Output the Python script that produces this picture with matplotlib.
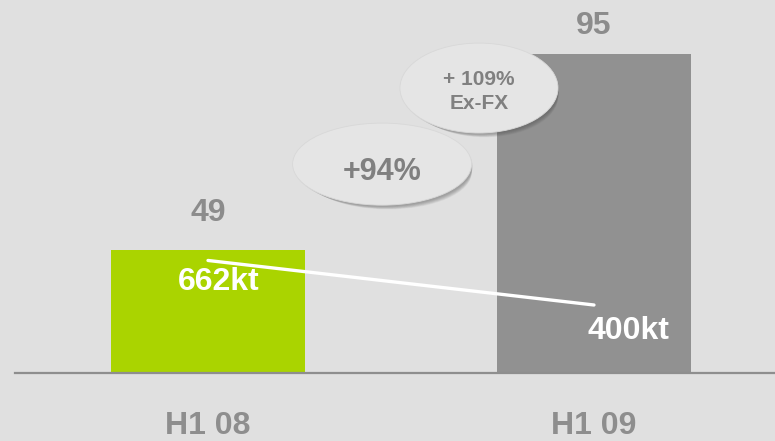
import matplotlib.pyplot as plt
from matplotlib import font_manager
from matplotlib.patches import Ellipse

# half-year figures
periodos = ['H1 08', 'H1 09']
valores = [49, 95]
volumen_kt = [662, 400]
etiquetas_kt = ['662kt', '400kt']
colores = ['#aad400', '#919191']

fondo = '#e0e0e0'
gris_txt = '#8c8c8c'

nombres = {f.name for f in font_manager.fontManager.ttflist}
estrecha = 'Liberation Sans Narrow' in nombres

fig = plt.figure(figsize=(7.75, 4.41), dpi=100, facecolor=fondo)
ax = fig.add_axes([15 / 775, 68 / 441, 760 / 775, 373 / 441])
ax.set_facecolor(fondo)

x = list(range(len(periodos)))
ax.bar(x, valores, width=0.503, color=colores, zorder=2)
ax.set_xlim(-0.5, 1.469)
ax.set_ylim(20.1, 20.1 + 373 / 4.26)

# value on top of each bar
for xi, v, dy in zip(x, valores, [37, 28]):
    ax.annotate(str(v), (xi, v), xytext=(0, dy), textcoords='offset pixels',
                ha='center', va='center', fontsize=23, fontweight='bold',
                color=gris_txt, family='Liberation Sans')

for s in ['top', 'left', 'right']:
    ax.spines[s].set_visible(False)
ax.spines['bottom'].set_color('#8e8e8e')
ax.spines['bottom'].set_linewidth(1.6)
ax.set_yticks([])
ax.set_xticks(x, periodos)
ax.tick_params(axis='x', length=0, pad=27, labelcolor='#8e8e8e')
for t in ax.get_xticklabels():
    if estrecha:
        t.set_family('Liberation Sans Narrow')
        t.set_fontsize(26)
    else:
        t.set_family('Liberation Sans')
        t.set_fontsize(23)
    t.set_fontweight('bold')

# volume line on a second scale
ax2 = ax.twinx()
ax2.set_ylim(0, 373 / 0.17)
ax2.axis('off')
ax2.plot(x, volumen_kt, color='white', lw=2.4, solid_capstyle='round', zorder=3)
for xi, v, txt, off in zip(x, volumen_kt, etiquetas_kt, [(11, -22), (34, -26)]):
    ax2.annotate(txt, (xi, v), xytext=off, textcoords='offset pixels',
                 ha='center', va='center', fontsize=23, fontweight='bold', color='white',
                 family='Liberation Sans')


def burbuja(cx, cy, w, h, z):
    # soft drop shadow then the bubble itself
    for i in range(9):
        d = 1.5 + i * 0.9
        ax2.add_patch(Ellipse((cx + d * 0.7 / 760, cy - d / 373), w - i * 0.002, h - i * 0.003,
                              transform=ax.transAxes, color='#4a4a4a', alpha=0.055,
                              lw=0, zorder=z, clip_on=False))
    ax2.add_patch(Ellipse((cx, cy), w, h, transform=ax.transAxes, facecolor='#e5e5e5',
                          edgecolor='#d8d8d8', lw=0.6, zorder=z + 0.1, clip_on=False))


burbuja(0.483, 0.560, 0.2355, 0.220, 4)
ax2.text(0.483, 0.540, '+94%', transform=ax.transAxes, ha='center', va='center',
         fontsize=22, fontweight='bold', color='#808080', family='Liberation Sans', zorder=4.5)

burbuja(0.6105, 0.764, 0.208, 0.241, 5)
ax2.text(0.6105, 0.787, '+ 109%', transform=ax.transAxes, ha='center', va='center',
         fontsize=15, fontweight='bold', color='#808080', family='Liberation Sans', zorder=5.5)
ax2.text(0.6105, 0.723, 'Ex-FX', transform=ax.transAxes, ha='center', va='center',
         fontsize=15, fontweight='bold', color='#808080', family='Liberation Sans', zorder=5.5)

fig.savefig('out.png', dpi=100, facecolor=fondo)
